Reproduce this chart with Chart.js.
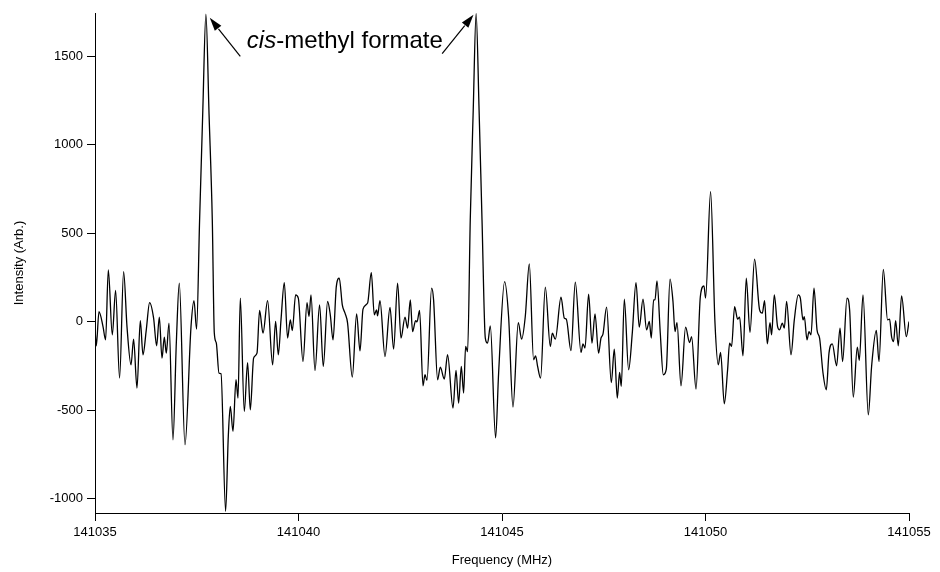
<!DOCTYPE html>
<html>
<head>
<meta charset="utf-8">
<script src="https://cdn.jsdelivr.net/npm/chart.js@4.4.1/dist/chart.umd.min.js"></script>
<style>
  html, body { margin: 0; padding: 0; background: #fff; }
  #wrap { width: 940px; height: 572px; }
</style>
</head>
<body>
<div id="wrap"><canvas id="myChart" width="940" height="572"></canvas></div>
<script>
// spectrum trace (frequency in MHz, intensity arb.)
let freqs = [
  141035.000, 141035.032, 141035.098, 141035.197, 141035.260, 141035.327, 141035.425, 141035.506,
  141035.604, 141035.703, 141035.786, 141035.885, 141035.948, 141036.032, 141036.113, 141036.179,
  141036.260, 141036.342, 141036.440, 141036.514, 141036.580, 141036.646, 141036.703, 141036.752,
  141036.818, 141036.916, 141036.998, 141037.071, 141037.211, 141037.359, 141037.432, 141037.496,
  141037.570, 141037.649, 141037.725, 141037.803, 141037.882, 141037.931, 141037.980, 141038.047,
  141038.096, 141038.209, 141038.275, 141038.324, 141038.391, 141038.464, 141038.514, 141038.570,
  141038.668, 141038.749, 141038.816, 141038.897, 141038.980, 141039.044, 141039.128, 141039.241,
  141039.364, 141039.437, 141039.504, 141039.570, 141039.651, 141039.732, 141039.799, 141039.848,
  141039.929, 141039.995, 141040.111, 141040.209, 141040.258, 141040.307, 141040.405, 141040.518,
  141040.609, 141040.715, 141040.781, 141040.848, 141040.929, 141041.002, 141041.076, 141041.143,
  141041.206, 141041.322, 141041.428, 141041.511, 141041.585, 141041.698, 141041.789, 141041.862,
  141041.919, 141041.943, 141042.002, 141042.125, 141042.248, 141042.337, 141042.435, 141042.518,
  141042.617, 141042.681, 141042.747, 141042.803, 141042.877, 141042.912, 141042.975, 141043.059,
  141043.108, 141043.157, 141043.270, 141043.319, 141043.418, 141043.484, 141043.582, 141043.663,
  141043.796, 141043.870, 141043.934, 141044.000, 141044.057, 141044.106, 141044.155, 141044.220,
  141044.293, 141044.364, 141044.437, 141044.509, 141044.590, 141044.646, 141044.713, 141044.843,
  141044.917, 141045.064, 141045.162, 141045.270, 141045.400, 141045.482, 141045.572, 141045.671,
  141045.776, 141045.826, 141045.875, 141045.948, 141046.064, 141046.187, 141046.236, 141046.310,
  141046.450, 141046.531, 141046.580, 141046.695, 141046.801, 141046.941, 141046.990, 141047.039,
  141047.128, 141047.211, 141047.285, 141047.373, 141047.432, 141047.482, 141047.570, 141047.686,
  141047.759, 141047.833, 141047.889, 141047.931, 141048.005, 141048.111, 141048.201, 141048.292,
  141048.373, 141048.464, 141048.553, 141048.619, 141048.668, 141048.725, 141048.759, 141048.808,
  141048.889, 141048.963, 141049.037, 141049.128, 141049.201, 141049.251, 141049.300, 141049.398,
  141049.511, 141049.609, 141049.658, 141049.767, 141049.872, 141049.963, 141050.002, 141050.125,
  141050.233, 141050.314, 141050.371, 141050.462, 141050.543, 141050.592, 141050.641, 141050.715,
  141050.789, 141050.838, 141050.921, 141051.002, 141051.093, 141051.206, 141051.329, 141051.396,
  141051.452, 141051.518, 141051.585, 141051.624, 141051.690, 141051.771, 141051.821, 141051.887,
  141051.936, 141051.993, 141052.101, 141052.182, 141052.280, 141052.330, 141052.396, 141052.428,
  141052.494, 141052.543, 141052.592, 141052.666, 141052.740, 141052.803, 141052.887, 141052.968,
  141053.034, 141053.115, 141053.221, 141053.305, 141053.369, 141053.477, 141053.541, 141053.631,
  141053.730, 141053.779, 141053.870, 141054.000, 141054.081, 141054.197, 141054.263, 141054.369,
  141054.474, 141054.523, 141054.572, 141054.622, 141054.671, 141054.737, 141054.818, 141054.934,
  141055.000
];
let intensity = [
  -34, -135, 58, -27, -102, 293, -73, 177,
  -318, 284, -27, -243, -98, -374, 7, -186,
  -45, 109, 21, -135, 27, -205, -86, -177,
  -7, -666, -120, 218, -694, -27, 120, -41,
  576, 1196, 1738, 1168, 576, -62, -119, -290,
  -293, -1070, -647, -478, -619, -327, -431, 134,
  -506, -230, -497, -205, -177, 64, -64, 120,
  -243, 2, -186, 11, 222, -92, 11, -49,
  152, 134, -224, 109, 30, 152, -275, 96,
  -252, 115, 40, -102, 199, 247, 96, 49,
  -7, -312, 45, -164, 72, 106, 278, 40,
  68, 34, 120, -196, 81, -154, 218, -92,
  27, -36, 124, -55, 7, 0, 64, -361,
  -299, -331, 190, 124, -327, -256, -323, -186,
  -487, -275, -459, -252, -402, -139, -168, 576,
  1196, 1742, 1196, 576, -92, -120, -23, -656,
  -289, 227, 30, -481, -4, -98, 30, 327,
  -214, -192, -252, -318, 196, -139, -64, -98,
  139, 21, 15, -162, 224, -173, -124, -148,
  156, -120, 45, -177, -92, -68, 83, -343,
  -154, -431, -286, -365, 128, -271, -64, 222,
  -30, 128, -45, 2, -92, 124, 124, 231,
  -64, -299, -267, 241, 115, -55, -4, -361,
  -30, -117, -83, -380, 139, 203, 134, 735,
  -7, -243, -173, -463, -271, -120, -139, 86,
  15, 27, -192, 247, -60, 354, 68, 49,
  120, -124, -4, -73, 152, -27, -45, -7,
  -36, 115, -186, 11, 152, 134, 11, 30,
  -102, -55, -73, 190, -45, -92, -289, -384,
  -177, -124, -248, -36, -224, 134, 68, -425,
  -143, -218, 152, -525, -252, -49, -224, 297,
  11, 15, -83, -111, 7, -135, 147, -83,
  2
];

let xTicks = [141035, 141040, 141045, 141050, 141055];
let yTicks = [-1000, -500, 0, 500, 1000, 1500];
let xRange = [141035, 141055];
let yRange = [-1080, 1745];

// label "cis-methyl formate" and its two arrows, in data units
let labelPos = { x: 141038.73, y: 1585 };
let arrows = [
  { from: { x: 141038.57, y: 1500 }, to: { x: 141037.82, y: 1718 } },
  { from: { x: 141043.53, y: 1515 }, to: { x: 141044.30, y: 1735 } }
];

let points = [];
for (let i = 0; i < freqs.length; i++) {
  points.push({ x: freqs[i], y: intensity[i] });
}

const FONT = "'Liberation Sans', Arial, Helvetica, sans-serif";
Chart.defaults.font.family = FONT;
Chart.defaults.color = "#000";

// draws the label text with arrows pointing at the peaks
const labelPlugin = {
  id: "peakLabel",
  afterDatasetsDraw(chart) {
    let ctx = chart.ctx;
    let xs = chart.scales.x;
    let ys = chart.scales.y;
    ctx.save();
    ctx.fillStyle = "#000";
    ctx.textBaseline = "middle";
    let px = xs.getPixelForValue(labelPos.x);
    let py = ys.getPixelForValue(labelPos.y);
    ctx.font = "italic 24px " + FONT;
    ctx.fillText("cis", px, py);
    let w = ctx.measureText("cis").width;
    ctx.font = "24px " + FONT;
    ctx.fillText("-methyl formate", px + w, py);

    ctx.strokeStyle = "#000";
    ctx.lineWidth = 1.2;
    for (let a of arrows) {
      let x1 = xs.getPixelForValue(a.from.x);
      let y1 = ys.getPixelForValue(a.from.y);
      let x2 = xs.getPixelForValue(a.to.x);
      let y2 = ys.getPixelForValue(a.to.y);
      let ang = Math.atan2(y2 - y1, x2 - x1);
      let len = 14;
      let spread = 0.3;
      let bx = x2 - len * Math.cos(ang);
      let by = y2 - len * Math.sin(ang);
      ctx.beginPath();
      ctx.moveTo(x1, y1);
      ctx.lineTo(bx, by);
      ctx.stroke();
      ctx.beginPath();
      ctx.moveTo(x2, y2);
      ctx.lineTo(x2 - len * Math.cos(ang - spread), y2 - len * Math.sin(ang - spread));
      ctx.lineTo(x2 - len * Math.cos(ang + spread), y2 - len * Math.sin(ang + spread));
      ctx.closePath();
      ctx.fill();
    }
    ctx.restore();
  }
};

let ctx = document.getElementById("myChart").getContext("2d");
let chart = new Chart(ctx, {
  type: "line",
  data: {
    datasets: [
      {
        label: "Intensity",
        data: points,
        borderColor: "#000",
        borderWidth: 1.3,
        pointRadius: 0,
        fill: false,
        cubicInterpolationMode: "monotone"
      }
    ]
  },
  options: {
    responsive: false,
    animation: false,
    events: [],
    layout: { padding: { left: 0, right: 31, top: 13, bottom: 0 } },
    plugins: {
      legend: { display: false },
      tooltip: { enabled: false }
    },
    scales: {
      x: {
        type: "linear",
        min: xRange[0],
        max: xRange[1],
        afterFit(scale) { scale.height = 59; },
        afterBuildTicks(scale) { scale.ticks = xTicks.map(v => ({ value: v })); },
        ticks: {
          font: { size: 13 },
          padding: 4,
          maxRotation: 0,
          callback: v => String(v)
        },
        grid: { display: true, drawOnChartArea: false, drawTicks: true, tickLength: 8, color: "#000", lineWidth: 1 },
        border: { display: true, color: "#000", width: 1 },
        title: { display: true, text: "Frequency (MHz)", font: { size: 13 }, padding: { top: 0, bottom: 4 } }
      },
      y: {
        type: "linear",
        min: yRange[0],
        max: yRange[1],
        afterFit(scale) { scale.width = 95; },
        afterBuildTicks(scale) { scale.ticks = yTicks.map(v => ({ value: v })); },
        ticks: {
          font: { size: 13 },
          padding: 4,
          callback: v => String(v)
        },
        grid: { display: true, drawOnChartArea: false, drawTicks: true, tickLength: 8, color: "#000", lineWidth: 1 },
        border: { display: true, color: "#000", width: 1 },
        title: { display: true, text: "Intensity (Arb.)", font: { size: 13 }, padding: { top: 12, bottom: 0 } }
      }
    }
  },
  plugins: [labelPlugin]
});
</script>
</body>
</html>
